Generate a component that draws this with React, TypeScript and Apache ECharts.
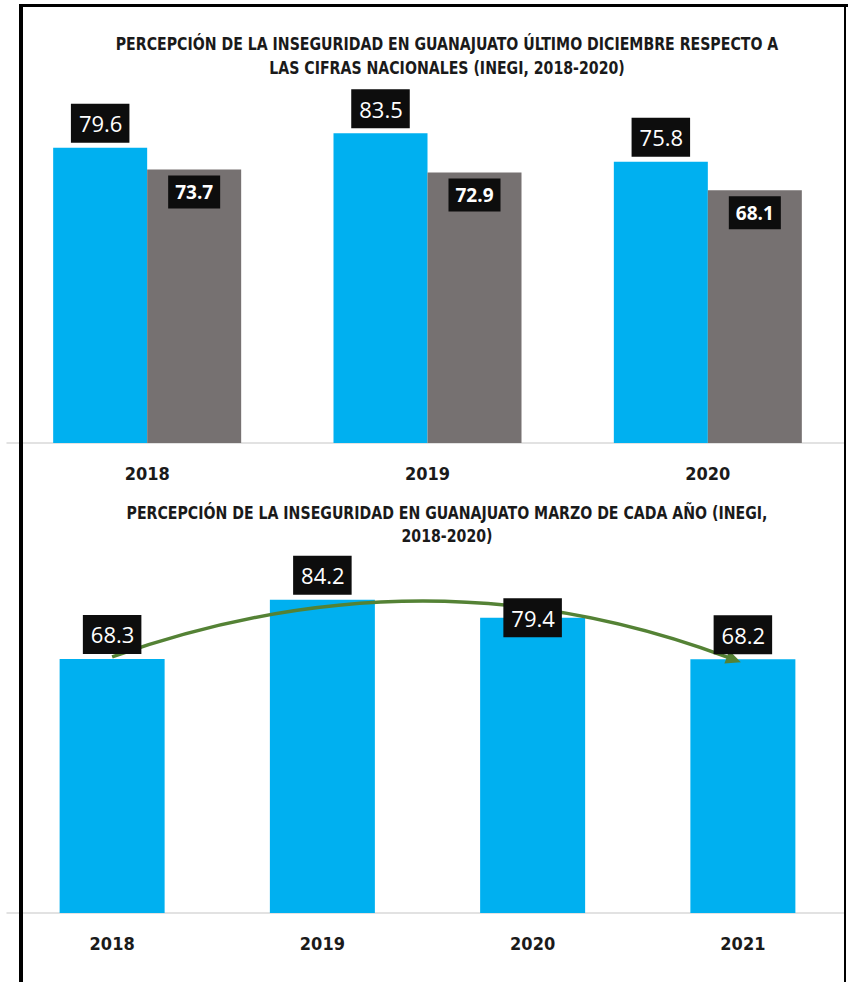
import React, { useEffect, useRef } from "react";
import * as echarts from "echarts";

const topCategories = ["2018", "2019", "2020"];
const guanajuatoDiciembre = [79.6, 83.5, 75.8];
const nacionalDiciembre = [73.7, 72.9, 68.1];

const bottomCategories = ["2018", "2019", "2020", "2021"];
const guanajuatoMarzo = [68.3, 84.2, 79.4, 68.2];

const topTitle =
  "PERCEPCIÓN DE LA INSEGURIDAD EN GUANAJUATO ÚLTIMO DICIEMBRE RESPECTO A\nLAS CIFRAS NACIONALES (INEGI, 2018-2020)";
const bottomTitle =
  "PERCEPCIÓN DE LA INSEGURIDAD EN GUANAJUATO MARZO DE CADA AÑO (INEGI,\n2018-2020)";

const BLUE = "#00b0f0";
const GRAY = "#767171";
const GREEN = "#548235";
const NARROW = "'DejaVu Sans Condensed', 'Liberation Sans Narrow', sans-serif";
const LABEL_FONT = "'Open Sans', 'Noto Sans', sans-serif";

export default function App() {
  const ref = useRef<HTMLDivElement>(null);

  useEffect(() => {
    document.body.style.margin = "0";
    if (!ref.current) return;
    const chart = echarts.init(ref.current, null, { renderer: "svg" });

    const blueLabel = {
      show: true,
      position: "top",
      distance: 5,
      opacity: 1,
      color: "#ffffff",
      backgroundColor: "#0d0d0d",
      fontFamily: LABEL_FONT,
      fontSize: 22,
      lineHeight: 29,
      padding: [5, 7, 5, 8],
    };

    const xAxisCommon = {
      type: "category",
      axisTick: { show: false },
      axisLine: { show: true, lineStyle: { color: "#d9d9d9", width: 1.5 } },
      axisLabel: {
        color: "#1a1a1a",
        fontFamily: NARROW,
        fontWeight: "bold",
        fontSize: 18,
        margin: 21,
      },
    };
    const yAxisCommon = {
      type: "value",
      min: 0,
      max: 100,
      show: false,
      splitLine: { show: false },
    };

    // bottom labels are drawn by a symbol-less scatter so they sit above the arrow
    const marzoLabels = guanajuatoMarzo.map((v, i) =>
      i === 2 ? { value: v, label: { position: "inside" } } : v
    );

    const option: any = {
      animation: false,
      backgroundColor: "#ffffff",
      grid: [
        { left: 7, width: 845, top: 72, height: 371 },
        { left: 7, width: 844, top: 541, height: 372 },
      ],
      xAxis: [
        { ...xAxisCommon, gridIndex: 0, data: topCategories },
        { ...xAxisCommon, gridIndex: 1, data: bottomCategories },
      ],
      yAxis: [
        { ...yAxisCommon, gridIndex: 0 },
        { ...yAxisCommon, gridIndex: 1 },
      ],
      series: [
        {
          name: "Guanajuato",
          type: "bar",
          xAxisIndex: 0,
          yAxisIndex: 0,
          data: guanajuatoDiciembre,
          barWidth: 94,
          barGap: "0%",
          itemStyle: { color: BLUE },
          label: blueLabel,
        },
        {
          name: "Nacional",
          type: "bar",
          xAxisIndex: 0,
          yAxisIndex: 0,
          data: nacionalDiciembre,
          barWidth: 94,
          barGap: "0%",
          itemStyle: { color: GRAY },
          label: {
            show: true,
            position: "insideTop",
            distance: 6,
            color: "#ffffff",
            backgroundColor: "#0d0d0d",
            fontFamily: LABEL_FONT,
            fontWeight: "bold",
            fontSize: 19,
            lineHeight: 25,
            padding: [4, 7],
          },
        },
        {
          name: "Guanajuato marzo",
          type: "bar",
          xAxisIndex: 1,
          yAxisIndex: 1,
          z: 2,
          data: guanajuatoMarzo,
          barWidth: 105,
          itemStyle: { color: BLUE },
        },
        {
          name: "Etiquetas marzo",
          type: "scatter",
          xAxisIndex: 1,
          yAxisIndex: 1,
          z: 6,
          symbol: "circle",
          symbolSize: 0,
          silent: true,
          itemStyle: { opacity: 1, color: BLUE },
          data: marzoLabels,
          label: blueLabel,
        },
      ],
    };

    chart.setOption(option);

    // Curved arrow across the bottom chart, anchored on data points
    const start = chart.convertToPixel({ gridIndex: 1 }, [0, guanajuatoMarzo[0]]) as number[];
    const end = chart.convertToPixel({ gridIndex: 1 }, [3, guanajuatoMarzo[3]]) as number[];
    const c1 = chart.convertToPixel({ gridIndex: 1 }, [1, 99]) as number[];
    const c2 = chart.convertToPixel({ gridIndex: 1 }, [2, 99]) as number[];
    const sx = start[0];
    const sy = start[1] - 2;
    const ex = end[0] - 2;
    const ey = end[1] + 3;
    const cx = (c1[0] + c2[0]) / 2;
    const cy = c1[1];
    const dx = ex - cx;
    const dy = ey - cy;
    const len = Math.sqrt(dx * dx + dy * dy);
    const ux = dx / len;
    const uy = dy / len;
    const headLen = 15;
    const headW = 7;
    const bx = ex - ux * headLen;
    const by = ey - uy * headLen;
    const px = -uy;
    const py = ux;

    chart.setOption({
      graphic: [
        {
          type: "text",
          x: 447,
          y: 32,
          scaleX: 0.925,
          style: {
            text: topTitle,
            align: "center",
            verticalAlign: "top",
            fontFamily: NARROW,
            fontWeight: "bold",
            fontSize: 17,
            lineHeight: 24,
            fill: "#1a1a1a",
          },
        },
        {
          type: "text",
          x: 447,
          y: 502,
          scaleX: 0.925,
          style: {
            text: bottomTitle,
            align: "center",
            verticalAlign: "top",
            fontFamily: NARROW,
            fontWeight: "bold",
            fontSize: 17,
            lineHeight: 23,
            fill: "#1a1a1a",
          },
        },
        {
          type: "bezierCurve",
          z: 4,
          shape: {
            x1: sx,
            y1: sy,
            x2: bx + ux * 2,
            y2: by + uy * 2,
            cpx1: cx,
            cpy1: cy,
          },
          style: { stroke: GREEN, lineWidth: 3.5, fill: null },
        },
        {
          type: "polygon",
          z: 4,
          shape: {
            points: [
              [ex, ey],
              [bx + px * headW, by + py * headW],
              [bx - px * headW, by - py * headW],
            ],
          },
          style: { fill: GREEN },
        },
        // frame
        {
          type: "rect",
          z: 20,
          shape: { x: 846, y: 0, width: 4, height: 982 },
          style: { fill: "#ffffff" },
        },
        {
          type: "line",
          z: 21,
          shape: { x1: 21, y1: 4, x2: 21, y2: 982 },
          style: { stroke: "#000000", lineWidth: 4 },
        },
        {
          type: "line",
          z: 21,
          shape: { x1: 19, y1: 5.5, x2: 848, y2: 5.5 },
          style: { stroke: "#000000", lineWidth: 3 },
        },
        {
          type: "line",
          z: 21,
          shape: { x1: 845, y1: 4, x2: 845, y2: 982 },
          style: { stroke: "#000000", lineWidth: 2 },
        },
      ],
    });

    return () => chart.dispose();
  }, []);

  return <div ref={ref} style={{ width: 848, height: 982 }} />;
}
